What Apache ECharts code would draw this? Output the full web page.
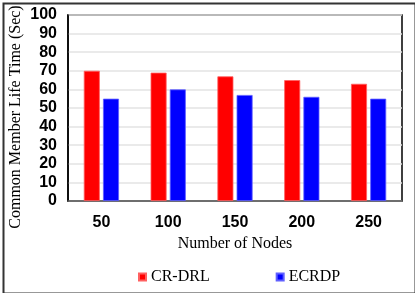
<!DOCTYPE html>
<html><head><meta charset="utf-8">
<script src="https://cdn.jsdelivr.net/npm/echarts@6/dist/echarts.min.js"></script>
<style>html,body{margin:0;padding:0;background:#fff}#c{width:415px;height:293px}</style>
</head><body><div id="c"></div>
<script>
const categories = ['50','100','150','200','250'];
const crdrl = [70, 69, 67, 65, 63];
const ecrdp = [55, 60, 57, 56, 55];
const seriesNames = ['CR-DRL','ECRDP'];
const yTitle = 'Common Member Life Time (Sec)';
const xTitle = 'Number of Nodes';

const serif = '"Liberation Serif", "Times New Roman", serif';
const tickFont = '"Liberation Sans Narrow", "Liberation Sans", sans-serif';

const chart = echarts.init(document.getElementById('c'));
chart.setOption({
  animation:false,
  backgroundColor:'#fff',
  graphic:[
    {type:'rect',left:1,top:1,shape:{width:412,height:290},style:{fill:'none',stroke:'#333',lineWidth:2}},
    {type:'text',x:16,y:117,rotation:Math.PI/2,
     style:{text:yTitle,font:'16px ' + serif,fill:'#000',align:'center',verticalAlign:'middle'}}
  ],
  grid:{left:68,right:13,top:15,bottom:92,show:true,borderColor:'#000',borderWidth:1.5,
        backgroundColor:'transparent',outerBoundsMode:'none',containLabel:false},
  legend:{
    data:seriesNames, top:264, left:133, itemGap:66,
    icon:'rect', itemWidth:7, itemHeight:7,
    textStyle:{fontFamily:serif,fontSize:16,color:'#000'}
  },
  xAxis:{
    type:'category', data:categories,
    name:xTitle, nameLocation:'middle', nameGap:32,
    nameTextStyle:{fontFamily:serif,fontSize:16,color:'#000'},
    axisLine:{lineStyle:{color:'#555',width:1.5}},
    axisTick:{show:false},
    axisLabel:{fontFamily:tickFont,fontWeight:'bold',fontSize:16,color:'#000',margin:14}
  },
  yAxis:{
    type:'value', min:0, max:100, interval:10,
    axisLine:{show:true,lineStyle:{color:'#000',width:1.5}},
    axisTick:{show:false},
    splitLine:{lineStyle:{color:'#e3e3e3',width:1.5}},
    axisLabel:{fontFamily:tickFont,fontWeight:'bold',fontSize:16,color:'#000',margin:11}
  },
  series:[
    {name:seriesNames[0],type:'bar',data:crdrl,barWidth:16,barGap:'20%',
     itemStyle:{color:'#ff0000',borderColor:'#ff6060',borderWidth:0.8}},
    {name:seriesNames[1],type:'bar',data:ecrdp,barWidth:16,
     itemStyle:{color:'#0000ff',borderColor:'#6060ff',borderWidth:0.8}}
  ]
});
</script></body></html>
